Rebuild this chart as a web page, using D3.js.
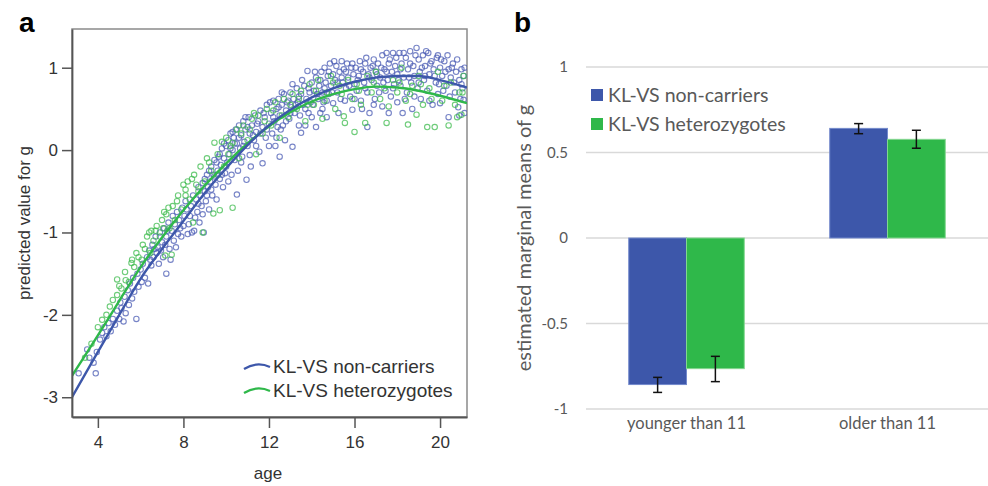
<!DOCTYPE html>
<html>
<head>
<meta charset="utf-8">
<script src="https://cdn.jsdelivr.net/npm/d3@7"></script>
<style>
  body { margin: 0; background: #fff; }
  svg { display: block; }
</style>
</head>
<body>
<svg id="chart" width="988" height="486"></svg>
<script>
// ---- panel a : fitted curves
var curveAges = [2.79, 4, 5, 6, 7, 8, 9, 10, 11, 12, 13, 14, 15, 16, 17, 18, 19, 20, 21.26];
var curveNonCarriers = [-3.0, -2.45, -2.0, -1.56, -1.2, -0.86, -0.52, -0.22, 0.06, 0.3, 0.49, 0.64, 0.75, 0.83, 0.88, 0.9, 0.9, 0.85, 0.76];
var curveHetero = [-2.74, -2.25, -1.83, -1.42, -1.06, -0.73, -0.43, -0.16, 0.08, 0.29, 0.46, 0.59, 0.68, 0.74, 0.77, 0.76, 0.72, 0.66, 0.57];

// ---- panel a : scatter, [age, predicted g]
var pointsNonCarriers = [
  [3.1,-2.71],[3.5,-2.42],[3.6,-2.52],[3.8,-2.58],[3.9,-2.71],[3.95,-2.45],[4.1,-2.3],[4.2,-2.22],[4.3,-2.15],[4.4,-2.26],[4.5,-2.1],[4.6,-2.2],
  [4.7,-2.05],[4.8,-2.12],[4.9,-1.95],[5.0,-2.05],[5.05,-1.85],[5.1,-1.92],[5.2,-2.08],[5.25,-1.78],[5.3,-1.98],[5.4,-1.7],[5.45,-1.88],[5.5,-1.62],
  [5.6,-1.8],[5.65,-1.55],[5.7,-1.72],[5.8,-2.05],[5.85,-1.5],[5.9,-1.66],[6.0,-1.45],[6.05,-1.6],[6.1,-1.38],[6.2,-1.55],[6.3,-1.3],[6.35,-1.62],
  [6.4,-1.22],[6.5,-1.4],[6.55,-1.15],[6.6,-1.3],[6.7,-1.05],[6.75,-1.25],[6.8,-1.18],[6.85,-1.38],[6.9,-1.0],[7.0,-1.12],[7.05,-1.3],[7.1,-0.95],
  [7.2,-1.5],[7.2,-1.05],[7.3,-0.88],[7.35,-1.2],[7.4,-1.33],[7.45,-0.98],[7.5,-0.8],[7.55,-1.1],[7.6,-0.9],[7.7,-0.75],[7.75,-1.02],[7.8,-0.85],
  [7.9,-1.05],[7.95,-0.7],[8.0,-0.92],[8.1,-0.62],[8.2,-1.02],[8.3,-0.8],[8.4,-1.0],[8.5,-0.98],
  [8.6,-0.6],[8.65,-0.75],[8.7,-0.45],[8.75,-0.88],[8.8,-0.55],[8.85,-0.68],[8.9,-0.4],[8.95,-1.0],[9.0,-0.5],[9.05,-0.62],[9.1,-0.3],[9.15,-0.45],
  [9.2,-0.72],[9.25,-0.38],[9.3,-0.2],[9.35,-0.55],[9.4,-0.3],[9.45,-0.12],[9.5,-0.42],[9.55,-0.6],[9.6,-0.25],[9.65,-0.08],[9.7,-0.35],[9.75,-0.18],
  [9.8,0.02],[9.85,-0.45],[9.9,-0.1],[9.95,-0.28],[10.0,0.05],[10.05,-0.15],
  [10.1,0.12],[10.15,-0.05],[10.2,0.2],[10.25,-0.3],[10.3,0.0],[10.35,0.15],[10.4,-0.12],[10.45,0.25],[10.5,-0.54],[10.5,0.08],[10.55,-0.25],[10.6,0.3],
  [10.65,0.02],[10.7,0.18],[10.75,-0.08],[10.8,0.35],[10.85,0.1],[10.9,0.25],[10.95,-0.36],[11.0,0.05],[11.05,0.4],[11.1,0.2],[11.15,-0.2],[11.2,0.3],
  [11.3,0.12],[11.35,0.42],[11.4,0.22],[11.5,0.35],[11.55,-0.02],[11.6,0.48],[11.7,-0.16],[11.7,0.28],[11.8,0.4],[11.85,0.15],[11.9,0.55],[12.0,0.32],
  [12.1,0.45],[12.15,0.2],[12.2,0.6],[12.25,0.35],[12.3,0.05],[12.35,0.5],[12.4,0.28],[12.45,0.62],[12.5,-0.08],[12.5,0.42],[12.6,0.55],[12.65,0.3],
  [12.7,0.68],[12.75,0.12],[12.8,0.48],[12.9,0.6],[12.95,0.38],[13.0,0.7],[13.05,0.52],[13.1,0.04],[13.15,0.62],[13.2,0.45],[13.3,0.75],[13.35,0.58],
  [13.4,0.3],[13.5,0.21],[13.5,0.68],[13.6,0.55],[13.65,0.78],[13.7,0.3],[13.75,0.62],[13.8,0.96],[13.85,0.45],[13.9,0.7],[14.0,0.82],
  [14.05,0.55],[14.1,0.72],[14.2,0.28],[14.2,0.88],[14.3,0.62],[14.35,0.78],[14.4,0.45],[14.45,0.95],[14.5,0.7],[14.55,0.58],[14.6,1.0],[14.65,0.82],
  [14.7,0.4],[14.75,0.9],[14.8,0.68],[14.85,1.05],[14.9,0.78],[15.0,0.57],[15.0,0.92],[15.1,0.85],[15.15,1.02],[15.2,0.7],[15.3,0.95],[15.35,0.62],
  [15.4,1.08],[15.45,0.82],[15.5,0.98],[15.6,0.75],[15.65,1.05],[15.7,0.88],[15.8,0.65],[15.85,1.0],[15.9,0.49],[15.95,0.92],[16.0,0.8],
  [16.05,1.0],[16.1,0.72],[16.2,0.9],[16.25,1.08],[16.3,0.6],[16.4,0.95],[16.45,0.82],[16.5,1.05],[16.6,0.28],[16.6,0.7],[16.65,0.92],[16.7,0.45],
  [16.75,1.0],[16.8,0.85],[16.9,1.1],[16.95,0.62],[17.0,0.95],[17.05,0.78],[17.1,1.05],[17.2,0.88],[17.3,0.53],[17.3,1.15],[17.4,0.98],[17.45,0.72],
  [17.5,1.18],[17.55,0.85],[17.6,1.05],[17.7,0.65],[17.75,0.95],[17.8,1.18],[17.85,0.8],[17.9,1.02],[18.0,0.58],[18.0,0.92],[18.1,1.18],
  [18.15,0.78],[18.2,1.05],[18.25,0.45],[18.3,0.88],[18.4,1.12],[18.45,0.7],[18.5,0.98],[18.6,1.2],[18.65,0.82],[18.7,0.5],[18.75,1.02],[18.8,0.9],
  [18.9,1.24],[18.95,0.75],[19.0,1.1],[19.05,0.95],[19.1,0.62],[19.2,1.15],[19.25,0.85],[19.3,1.02],[19.4,0.72],[19.45,1.18],[19.5,0.92],[19.6,1.08],
  [19.65,0.55],[19.7,0.98],[19.8,0.82],[19.85,1.12],[19.9,0.68],[20.0,1.0],[20.0,0.57],[20.1,0.9],[20.2,1.08],[20.3,0.78],[20.4,0.4],[20.4,0.98],
  [20.5,0.88],[20.6,1.05],[20.7,0.7],[20.75,0.95],[20.85,0.52],[20.9,0.85],[21.0,0.98],[21.05,0.75],[21.1,0.61],[21.1,0.9],
  [6.45,-1.33],[6.65,-1.2],[6.95,-1.22],[7.15,-1.15],[7.25,-0.98],[7.65,-1.18],[7.85,-0.95],[8.05,-0.8],[8.15,-0.72],[8.25,-0.9],[8.35,-0.68],[8.45,-0.55],
  [8.55,-0.82],[8.7,-0.65],[8.9,-0.78],[9.0,-0.35],[9.1,-0.55],[9.2,-0.25],[9.3,-0.48],[9.45,-0.32],[9.55,-0.15],[9.7,-0.05],[9.8,-0.3],[9.9,0.08],
  [10.0,-0.2],[10.1,-0.38],[10.2,0.02],[10.3,0.22],[10.4,0.08],[10.6,0.15],[10.7,-0.15],[10.8,0.05],[10.9,0.4],[11.0,0.28],[11.1,-0.06],[11.25,0.18],
  [11.4,0.05],[11.45,0.32],[11.6,0.2],[11.75,0.45],[11.9,0.25],[12.0,0.05],[12.05,0.58],[12.2,0.4],[12.35,0.15],[12.45,0.52],[12.55,0.25],[12.6,0.7],
  [12.8,0.35],[12.85,0.58],[13.0,0.45],[13.1,0.8],[13.25,0.55],[13.4,0.65],[13.45,0.42],[13.55,0.85],[13.7,0.5],[13.85,0.75],[13.95,0.58],
  [14.0,0.4],[14.15,0.95],[14.25,0.68],[14.4,0.85],[14.5,0.5],[14.6,0.75],[14.7,0.6],[14.8,0.95],[14.95,0.7],[15.05,1.08],[15.2,0.82],[15.25,0.45],
  [15.4,0.88],[15.55,0.6],[15.6,0.95],[15.75,0.78],[15.9,1.05],[16.0,0.62],[16.15,0.85],[16.3,0.98],[16.35,0.5],[16.5,0.75],[16.55,1.12],[16.7,0.88],
  [16.85,1.02],[16.9,0.55],[17.05,0.92],[17.15,0.7],[17.25,1.0],[17.35,0.82],[17.5,0.95],[17.6,0.45],[17.65,1.1],[17.8,0.75],[17.95,1.12],
  [18.05,0.85],[18.15,0.98],[18.3,1.18],[18.35,0.62],[18.55,0.88],[18.6,1.05],[18.8,0.65],[18.85,1.15],[19.0,0.82],[19.15,1.0],[19.3,0.9],[19.35,1.2],
  [19.5,0.6],[19.55,1.05],[19.75,0.9],[19.9,1.15],[19.95,0.8],[20.05,1.1],[20.15,0.72],[20.25,0.95],[20.35,1.15],[20.45,0.65],[20.55,1.0],[20.65,0.82],
  [20.8,1.1],[20.95,0.62],[21.0,0.8],[21.15,1.0],[21.15,0.45],[20.9,0.42]
];
var pointsHetero = [
  [3.4,-2.52],[3.7,-2.35],[4.0,-2.15],[4.2,-2.06],[4.4,-2.0],[4.56,-1.9],[4.7,-1.82],[4.9,-1.76],[4.9,-1.57],[5.1,-1.68],[5.27,-1.48],[5.3,-1.58],
  [5.45,-1.6],[5.57,-1.37],[5.6,-1.33],[5.7,-1.42],[5.9,-1.3],[6.05,-1.33],[6.2,-1.2],[6.3,-1.05],[6.4,-1.0],[6.45,-1.25],[6.5,-0.98],[6.6,-1.1],
  [6.75,-0.92],[6.9,-1.05],[7.0,-0.85],[7.1,-0.75],[7.15,-1.28],[7.2,-0.78],[7.35,-0.95],[7.45,-1.27],[7.5,-0.68],[7.6,-0.85],[7.75,-0.55],[7.9,-0.72],
  [8.0,-0.42],[8.1,-0.55],[8.2,-0.38],[8.3,-0.6],[8.45,-0.88],[8.5,-0.3],[8.7,-0.5],[8.8,-0.2],[8.9,-1.0],[9.0,-0.38],[9.1,-0.1],[9.3,-0.25],
  [9.4,-0.77],[9.45,0.09],[9.6,-0.05],[9.7,-0.73],[9.8,0.1],[9.9,-0.2],[10.0,0.15],[10.1,-0.05],[10.3,-0.7],[10.3,0.09],[10.5,0.25],[10.6,-0.1],
  [10.8,0.3],[11.0,0.12],[11.2,0.38],[11.4,-0.05],[11.5,0.42],[11.7,0.2],[11.9,0.5],[12.1,0.3],[12.3,0.58],[12.5,0.15],[12.7,0.62],[12.9,0.4],
  [13.1,0.68],[13.3,0.5],[13.5,0.72],[13.7,0.35],[13.9,0.8],[14.1,0.55],[14.3,0.85],[14.5,0.38],[14.7,0.7],[14.9,0.9],[15.1,0.5],[15.3,0.78],
  [15.5,0.41],[15.55,0.33],[15.7,0.85],[15.9,0.62],[16.0,0.22],[16.1,0.8],[16.3,0.55],[16.5,0.33],[16.6,0.9],[16.8,0.7],[17.0,0.95],[17.2,0.62],
  [17.5,0.33],[17.6,0.53],[17.8,0.85],[18.0,0.7],[18.2,1.0],[18.4,0.6],[18.5,0.31],[18.7,0.78],[18.9,0.43],[19.0,0.9],[19.2,0.55],[19.4,0.28],
  [19.5,0.75],[19.75,0.28],[19.9,0.95],[20.1,0.6],[20.4,0.3],[20.5,0.82],[20.8,0.4],[20.9,0.7],[21.0,0.43],[21.1,0.9],
  [5.0,-1.65],[5.8,-1.25],[6.1,-1.15],[6.7,-0.98],[7.05,-0.95],[7.3,-0.7],[7.7,-0.62],[8.1,-0.48],[8.4,-0.35],[8.6,-0.42],[9.2,-0.15],[9.6,-0.3],
  [10.2,0.05],[10.7,0.2],[11.1,0.25],[11.3,0.45],[11.8,0.35],[12.2,0.48],[12.6,0.42],[13.0,0.55],[13.4,0.62],[13.8,0.55],[14.2,0.72],[14.6,0.6],
  [15.0,0.82],[15.4,0.68],[16.2,0.72],[16.9,0.82],[17.4,0.75],[18.1,0.82],[18.6,0.68],[19.1,0.8],[19.6,0.62],[20.2,0.78],[20.7,0.55],[21.05,0.7]
];
var yTicksA = [-3, -2, -1, 0, 1];
var xTicksA = [4, 8, 12, 16, 20];

// ---- panel b : estimated marginal means
var groups = ["younger than 11", "older than 11"];
var seriesNames = ["KL-VS non-carriers", "KL-VS heterozygotes"];
var meansNonCarriers = [-0.857, 0.641];
var meansHetero = [-0.764, 0.577];
var errLowNonCarriers = [-0.903, 0.61];
var errHighNonCarriers = [-0.815, 0.669];
var errLowHetero = [-0.84, 0.525];
var errHighHetero = [-0.692, 0.63];
var yTicksB = [-1, -0.5, 0, 0.5, 1];

var blue = "#3d57aa", green = "#2fb84a";
var svg = d3.select("#chart");

// =================== panel a
var xA = d3.scaleLinear().domain([2.79, 21.26]).range([72, 467]);
var yA = d3.scaleLinear().domain([-3.24, 1.47]).range([417, 29]);
var fontA = "'Liberation Sans', Arial, sans-serif";

svg.append("text").attr("x", 19).attr("y", 32)
  .style("font", "bold 28px " + fontA).text("a");

svg.append("rect").attr("x", 72).attr("y", 29).attr("width", 395).attr("height", 388)
  .attr("fill", "none").attr("stroke", "#8a8a8a").attr("stroke-width", 1.5);

svg.append("clipPath").attr("id", "clipA").append("rect")
  .attr("x", 72).attr("y", 29).attr("width", 395).attr("height", 388);
var plotA = svg.append("g").attr("clip-path", "url(#clipA)");

function drawPoints(pts, col) {
  plotA.append("g").selectAll("circle").data(pts).enter().append("circle")
    .attr("cx", function(d) { return xA(d[0]); })
    .attr("cy", function(d) { return yA(d[1]); })
    .attr("r", 2.7)
    .attr("fill", "none")
    .attr("stroke", col)
    .attr("stroke-opacity", 0.75)
    .attr("stroke-width", 1.1);
}
drawPoints(pointsNonCarriers, "#4b5cb4");
drawPoints(pointsHetero, "#3dbb4d");

var line = d3.line()
  .x(function(d, i) { return xA(curveAges[i]); })
  .y(function(d) { return yA(d); })
  .curve(d3.curveMonotoneX);
plotA.append("path").attr("d", line(curveHetero)).attr("fill", "none")
  .attr("stroke", green).attr("stroke-width", 2.4);
plotA.append("path").attr("d", line(curveNonCarriers)).attr("fill", "none")
  .attr("stroke", blue).attr("stroke-width", 2.4);

var fmt = function(d) { return String(d); };
var axA = svg.append("g").attr("transform", "translate(72,0)")
  .call(d3.axisLeft(yA).tickValues(yTicksA).tickFormat(fmt).tickSize(10).tickPadding(4).tickSizeOuter(0));
var bxA = svg.append("g").attr("transform", "translate(0,417)")
  .call(d3.axisBottom(xA).tickValues(xTicksA).tickFormat(fmt).tickSize(11).tickPadding(8).tickSizeOuter(0));
[axA, bxA].forEach(function(g) {
  g.select(".domain").attr("stroke", "#555").attr("stroke-width", 1.8);
  g.selectAll(".tick line").attr("stroke", "#555").attr("stroke-width", 1.5);
  g.selectAll(".tick text").style("font", "17px " + fontA).attr("fill", "#333");
});

svg.append("text").attr("x", 268).attr("y", 479).attr("text-anchor", "middle")
  .style("font", "17px " + fontA).attr("fill", "#333").text("age");
svg.append("text").attr("transform", "translate(30,223) rotate(-90)").attr("text-anchor", "middle")
  .style("font", "17px " + fontA).attr("fill", "#333").text("predicted value for g");

// legend a
var legA = svg.append("g");
[[blue, 373], [green, 397]].forEach(function(s, i) {
  legA.append("path").attr("d", "M244," + (s[1] - 4) + " Q257," + (s[1] - 12) + " 270," + (s[1] - 6))
    .attr("fill", "none").attr("stroke", s[0]).attr("stroke-width", 2.2);
  legA.append("text").attr("x", 273).attr("y", s[1])
    .style("font", "19px " + fontA).attr("fill", "#333").text(seriesNames[i]);
});

// =================== panel b
var fontB = "Lato, 'Open Sans', sans-serif";
var yB = d3.scaleLinear().domain([-1, 1]).range([409, 67]);
var x0 = d3.scaleBand().domain(groups).range([586, 988]);
var x1 = d3.scaleBand().domain(seriesNames).range([0, x0.bandwidth()]).paddingOuter(0.74);

svg.append("text").attr("x", 514).attr("y", 32)
  .style("font", "bold 28px " + fontA).text("b");

svg.append("g").selectAll("line").data(yTicksB).enter().append("line")
  .attr("x1", 586).attr("x2", 988)
  .attr("y1", function(d) { return yB(d); }).attr("y2", function(d) { return yB(d); })
  .attr("stroke", "#d9d9d9").attr("stroke-width", 1.4);
svg.append("g").selectAll("text").data(yTicksB).enter().append("text")
  .attr("x", 568).attr("y", function(d) { return yB(d) + 5; })
  .attr("text-anchor", "end").style("font", "15px " + fontB).attr("fill", "#595959")
  .text(fmt);

var barData = [
  {name: seriesNames[0], means: meansNonCarriers, lo: errLowNonCarriers, hi: errHighNonCarriers, col: blue, edge: "#7389cc"},
  {name: seriesNames[1], means: meansHetero, lo: errLowHetero, hi: errHighHetero, col: green, edge: "#83d68f"}
];
barData.forEach(function(s) {
  var g = svg.append("g");
  g.selectAll("rect").data(groups).enter().append("rect")
    .attr("x", function(d) { return x0(d) + x1(s.name); })
    .attr("width", x1.bandwidth())
    .attr("y", function(d, i) { return yB(Math.max(0, s.means[i])); })
    .attr("height", function(d, i) { return Math.abs(yB(s.means[i]) - yB(0)); })
    .attr("fill", s.col).attr("stroke", s.edge).attr("stroke-width", 1);
  groups.forEach(function(grp, i) {
    var cx = x0(grp) + x1(s.name) + x1.bandwidth() / 2;
    g.append("line").attr("x1", cx).attr("x2", cx).attr("y1", yB(s.lo[i])).attr("y2", yB(s.hi[i]))
      .attr("stroke", "#111").attr("stroke-width", 1.5);
    [s.lo[i], s.hi[i]].forEach(function(v) {
      g.append("line").attr("x1", cx - 4.5).attr("x2", cx + 4.5).attr("y1", yB(v)).attr("y2", yB(v))
        .attr("stroke", "#111").attr("stroke-width", 1.5);
    });
  });
});

svg.append("g").selectAll("text").data(groups).enter().append("text")
  .attr("x", function(d) { return x0(d) + x0.bandwidth() / 2; }).attr("y", 429)
  .attr("text-anchor", "middle").style("font", "16.5px " + fontB).attr("fill", "#595959")
  .text(function(d) { return d; });

svg.append("text").attr("transform", "translate(531,238) rotate(-90)").attr("text-anchor", "middle")
  .style("font", "20px " + fontB).attr("fill", "#595959").text("estimated marginal means of g");

// legend b
barData.forEach(function(s, i) {
  var yy = 102 + i * 29;
  svg.append("rect").attr("x", 591).attr("y", yy - 13).attr("width", 12).attr("height", 12).attr("fill", s.col);
  svg.append("text").attr("x", 608).attr("y", yy)
    .style("font", "19.5px " + fontB).attr("fill", "#595959").text(s.name);
});
</script>
</body>
</html>
